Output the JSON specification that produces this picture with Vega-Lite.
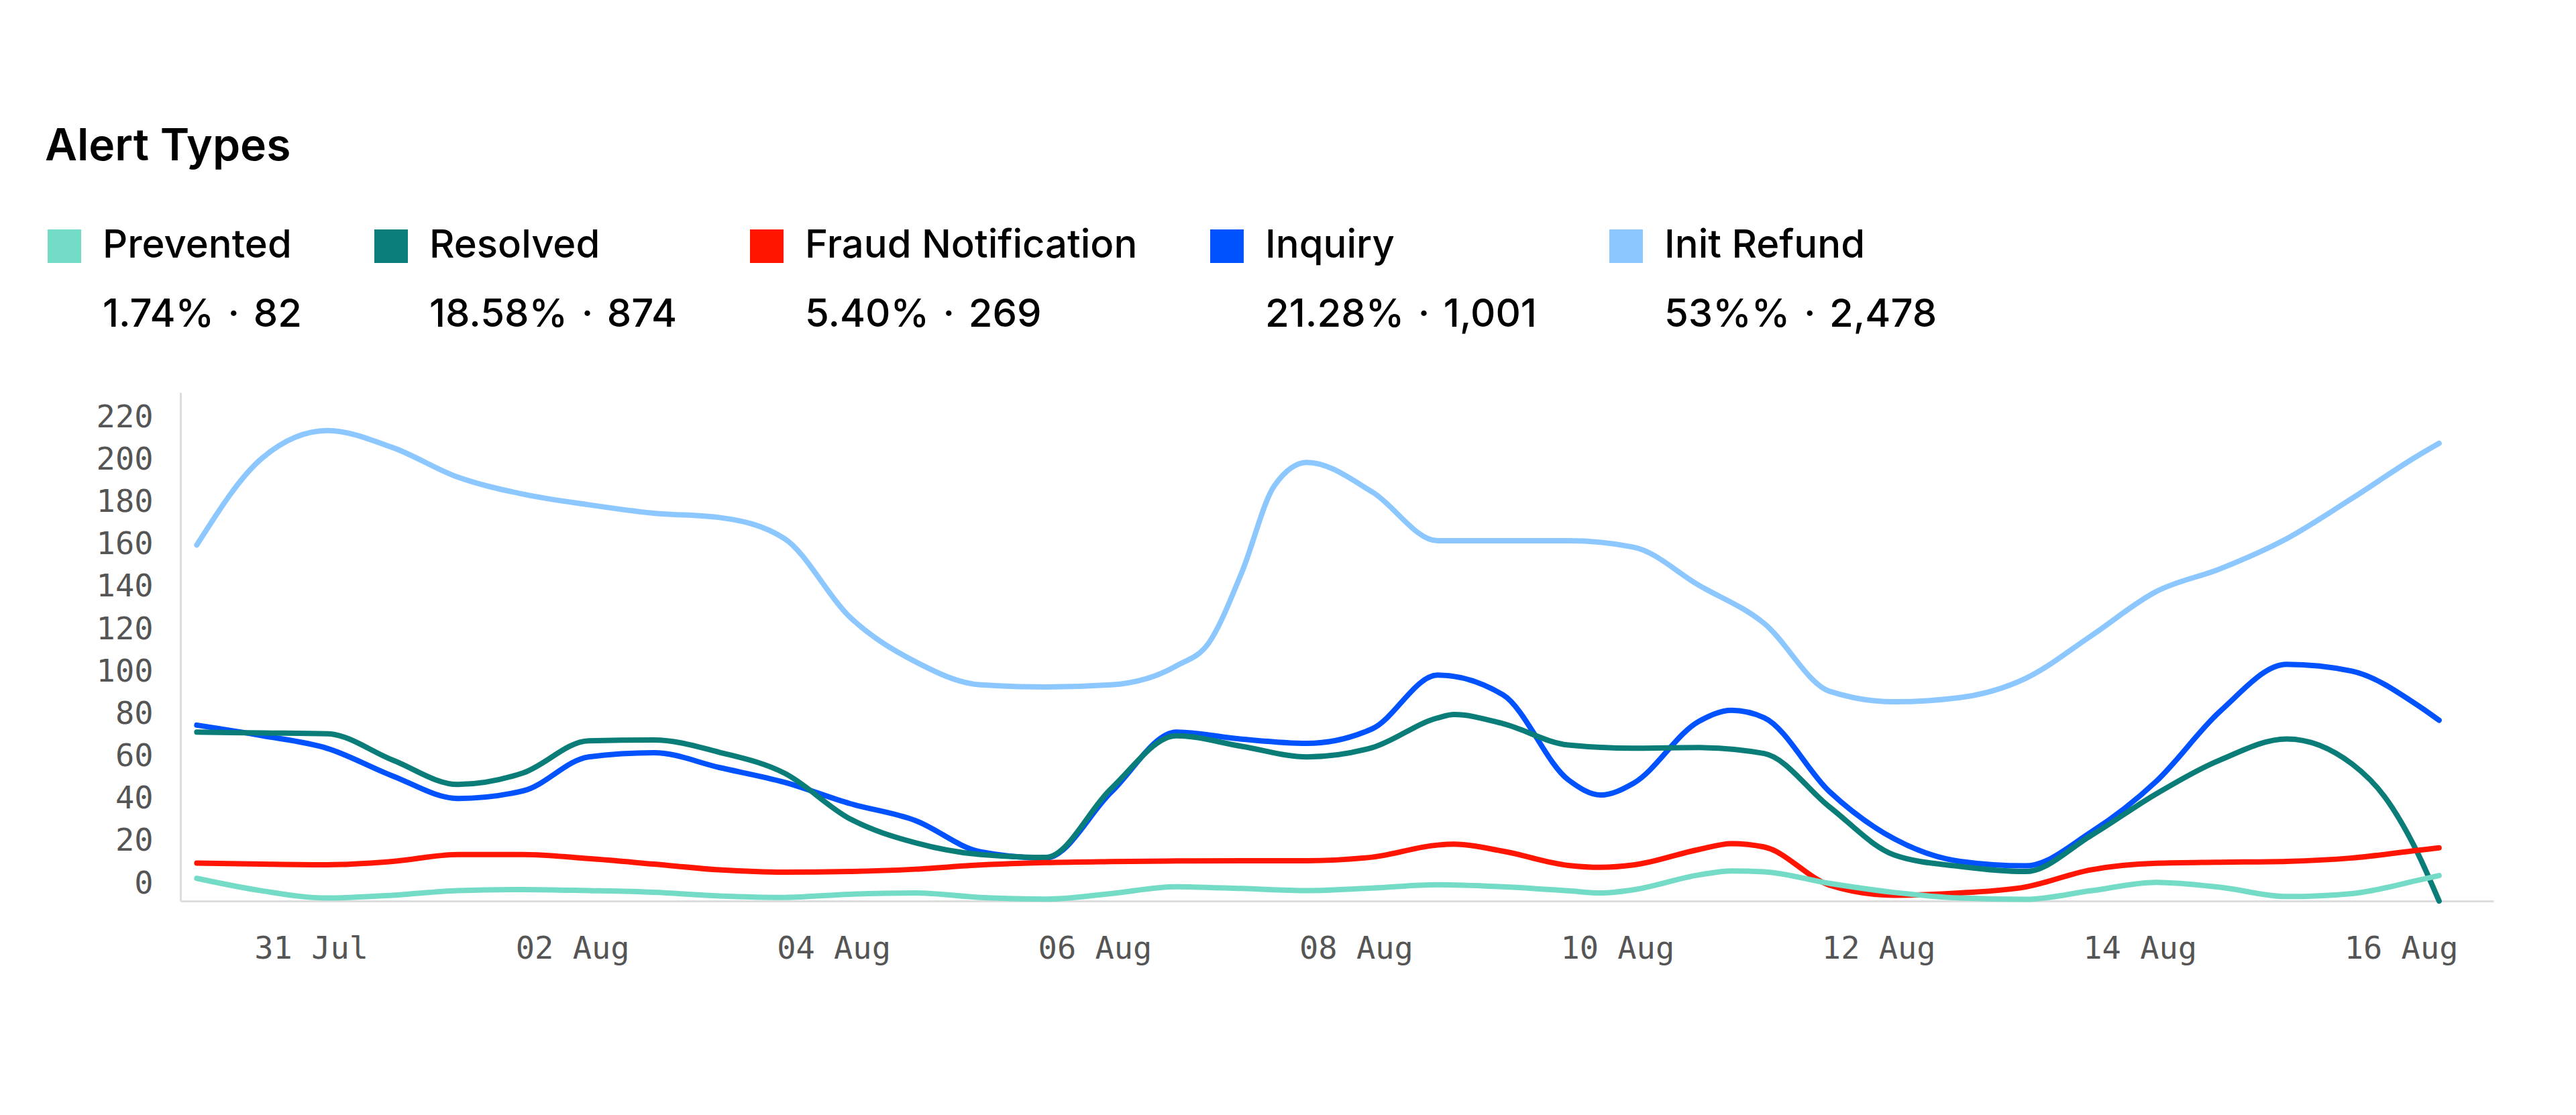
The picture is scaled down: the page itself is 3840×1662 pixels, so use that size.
{
  "$schema": "https://vega.github.io/schema/vega-lite/v6.json",
  "width": 3448,
  "height": 758,
  "autosize": {"type": "none"},
  "padding": {"left": 269, "top": 585, "right": 123, "bottom": 319},
  "background": "#ffffff",
  "title": {
    "text": "Alert Types",
    "anchor": "start",
    "frame": "bounds",
    "font": "Inter",
    "fontSize": 66,
    "fontWeight": 600,
    "color": "#000000",
    "offset": 85
  },
  "data": {
    "values": [
      {"date": "2024-07-30T03:00:00Z", "series": "Init Refund", "count": 168},
      {"date": "2024-07-30T15:00:00Z", "series": "Init Refund", "count": 209},
      {"date": "2024-07-31T03:00:00Z", "series": "Init Refund", "count": 222},
      {"date": "2024-07-31T15:00:00Z", "series": "Init Refund", "count": 214},
      {"date": "2024-08-01T03:00:00Z", "series": "Init Refund", "count": 200},
      {"date": "2024-08-01T15:00:00Z", "series": "Init Refund", "count": 192},
      {"date": "2024-08-02T03:00:00Z", "series": "Init Refund", "count": 187},
      {"date": "2024-08-02T15:00:00Z", "series": "Init Refund", "count": 183},
      {"date": "2024-08-03T03:00:00Z", "series": "Init Refund", "count": 181},
      {"date": "2024-08-03T15:00:00Z", "series": "Init Refund", "count": 171},
      {"date": "2024-08-04T03:00:00Z", "series": "Init Refund", "count": 134},
      {"date": "2024-08-04T15:00:00Z", "series": "Init Refund", "count": 113},
      {"date": "2024-08-05T03:00:00Z", "series": "Init Refund", "count": 102},
      {"date": "2024-08-05T15:00:00Z", "series": "Init Refund", "count": 101},
      {"date": "2024-08-06T03:00:00Z", "series": "Init Refund", "count": 102},
      {"date": "2024-08-06T15:00:00Z", "series": "Init Refund", "count": 111},
      {"date": "2024-08-06T21:00:00Z", "series": "Init Refund", "count": 122},
      {"date": "2024-08-07T03:00:00Z", "series": "Init Refund", "count": 155},
      {"date": "2024-08-07T09:00:00Z", "series": "Init Refund", "count": 196},
      {"date": "2024-08-07T15:00:00Z", "series": "Init Refund", "count": 207},
      {"date": "2024-08-08T03:00:00Z", "series": "Init Refund", "count": 193},
      {"date": "2024-08-08T15:00:00Z", "series": "Init Refund", "count": 170},
      {"date": "2024-08-09T03:00:00Z", "series": "Init Refund", "count": 170},
      {"date": "2024-08-09T15:00:00Z", "series": "Init Refund", "count": 170},
      {"date": "2024-08-10T03:00:00Z", "series": "Init Refund", "count": 167},
      {"date": "2024-08-10T15:00:00Z", "series": "Init Refund", "count": 149},
      {"date": "2024-08-11T03:00:00Z", "series": "Init Refund", "count": 131},
      {"date": "2024-08-11T15:00:00Z", "series": "Init Refund", "count": 99},
      {"date": "2024-08-12T03:00:00Z", "series": "Init Refund", "count": 94},
      {"date": "2024-08-12T15:00:00Z", "series": "Init Refund", "count": 96},
      {"date": "2024-08-13T03:00:00Z", "series": "Init Refund", "count": 105},
      {"date": "2024-08-13T15:00:00Z", "series": "Init Refund", "count": 125},
      {"date": "2024-08-14T03:00:00Z", "series": "Init Refund", "count": 146},
      {"date": "2024-08-14T15:00:00Z", "series": "Init Refund", "count": 157},
      {"date": "2024-08-15T03:00:00Z", "series": "Init Refund", "count": 171},
      {"date": "2024-08-15T15:00:00Z", "series": "Init Refund", "count": 190},
      {"date": "2024-08-16T03:00:00Z", "series": "Init Refund", "count": 210},
      {"date": "2024-08-16T07:00:00Z", "series": "Init Refund", "count": 216},

      {"date": "2024-07-30T03:00:00Z", "series": "Inquiry", "count": 83},
      {"date": "2024-07-30T15:00:00Z", "series": "Inquiry", "count": 78},
      {"date": "2024-07-31T03:00:00Z", "series": "Inquiry", "count": 72},
      {"date": "2024-07-31T15:00:00Z", "series": "Inquiry", "count": 59},
      {"date": "2024-08-01T03:00:00Z", "series": "Inquiry", "count": 48.4},
      {"date": "2024-08-01T15:00:00Z", "series": "Inquiry", "count": 52},
      {"date": "2024-08-02T03:00:00Z", "series": "Inquiry", "count": 68},
      {"date": "2024-08-02T15:00:00Z", "series": "Inquiry", "count": 70},
      {"date": "2024-08-03T03:00:00Z", "series": "Inquiry", "count": 63},
      {"date": "2024-08-03T15:00:00Z", "series": "Inquiry", "count": 56},
      {"date": "2024-08-04T03:00:00Z", "series": "Inquiry", "count": 46},
      {"date": "2024-08-04T15:00:00Z", "series": "Inquiry", "count": 38},
      {"date": "2024-08-05T03:00:00Z", "series": "Inquiry", "count": 23.2},
      {"date": "2024-08-05T15:00:00Z", "series": "Inquiry", "count": 20.3},
      {"date": "2024-08-06T03:00:00Z", "series": "Inquiry", "count": 51.3},
      {"date": "2024-08-06T15:00:00Z", "series": "Inquiry", "count": 79.7},
      {"date": "2024-08-07T03:00:00Z", "series": "Inquiry", "count": 76.4},
      {"date": "2024-08-07T15:00:00Z", "series": "Inquiry", "count": 74.4},
      {"date": "2024-08-08T03:00:00Z", "series": "Inquiry", "count": 81.3},
      {"date": "2024-08-08T15:00:00Z", "series": "Inquiry", "count": 106.6},
      {"date": "2024-08-09T03:00:00Z", "series": "Inquiry", "count": 97.3},
      {"date": "2024-08-09T15:00:00Z", "series": "Inquiry", "count": 57.2},
      {"date": "2024-08-09T21:00:00Z", "series": "Inquiry", "count": 50},
      {"date": "2024-08-10T03:00:00Z", "series": "Inquiry", "count": 55.6},
      {"date": "2024-08-10T15:00:00Z", "series": "Inquiry", "count": 84.8},
      {"date": "2024-08-10T21:00:00Z", "series": "Inquiry", "count": 90},
      {"date": "2024-08-11T03:00:00Z", "series": "Inquiry", "count": 86.5},
      {"date": "2024-08-11T15:00:00Z", "series": "Inquiry", "count": 51.6},
      {"date": "2024-08-12T03:00:00Z", "series": "Inquiry", "count": 29.2},
      {"date": "2024-08-12T15:00:00Z", "series": "Inquiry", "count": 18.7},
      {"date": "2024-08-13T03:00:00Z", "series": "Inquiry", "count": 16.6},
      {"date": "2024-08-13T15:00:00Z", "series": "Inquiry", "count": 32.4},
      {"date": "2024-08-14T03:00:00Z", "series": "Inquiry", "count": 56.4},
      {"date": "2024-08-14T15:00:00Z", "series": "Inquiry", "count": 90.1},
      {"date": "2024-08-15T03:00:00Z", "series": "Inquiry", "count": 111.7},
      {"date": "2024-08-15T15:00:00Z", "series": "Inquiry", "count": 108.5},
      {"date": "2024-08-16T03:00:00Z", "series": "Inquiry", "count": 92.5},
      {"date": "2024-08-16T07:00:00Z", "series": "Inquiry", "count": 85.3},

      {"date": "2024-07-30T03:00:00Z", "series": "Resolved", "count": 79.7},
      {"date": "2024-07-30T15:00:00Z", "series": "Resolved", "count": 79.3},
      {"date": "2024-07-31T03:00:00Z", "series": "Resolved", "count": 78.9},
      {"date": "2024-07-31T15:00:00Z", "series": "Resolved", "count": 66.5},
      {"date": "2024-08-01T03:00:00Z", "series": "Resolved", "count": 55},
      {"date": "2024-08-01T15:00:00Z", "series": "Resolved", "count": 60.5},
      {"date": "2024-08-02T03:00:00Z", "series": "Resolved", "count": 75.6},
      {"date": "2024-08-02T15:00:00Z", "series": "Resolved", "count": 76},
      {"date": "2024-08-03T03:00:00Z", "series": "Resolved", "count": 70.2},
      {"date": "2024-08-03T15:00:00Z", "series": "Resolved", "count": 60.3},
      {"date": "2024-08-04T03:00:00Z", "series": "Resolved", "count": 38.8},
      {"date": "2024-08-04T15:00:00Z", "series": "Resolved", "count": 27.5},
      {"date": "2024-08-05T03:00:00Z", "series": "Resolved", "count": 21.9},
      {"date": "2024-08-05T15:00:00Z", "series": "Resolved", "count": 20.6},
      {"date": "2024-08-06T03:00:00Z", "series": "Resolved", "count": 53},
      {"date": "2024-08-06T15:00:00Z", "series": "Resolved", "count": 78},
      {"date": "2024-08-07T03:00:00Z", "series": "Resolved", "count": 73},
      {"date": "2024-08-07T15:00:00Z", "series": "Resolved", "count": 68},
      {"date": "2024-08-08T03:00:00Z", "series": "Resolved", "count": 72.4},
      {"date": "2024-08-08T15:00:00Z", "series": "Resolved", "count": 86.4},
      {"date": "2024-08-08T18:00:00Z", "series": "Resolved", "count": 88},
      {"date": "2024-08-09T03:00:00Z", "series": "Resolved", "count": 83.7},
      {"date": "2024-08-09T15:00:00Z", "series": "Resolved", "count": 73.6},
      {"date": "2024-08-10T03:00:00Z", "series": "Resolved", "count": 72.1},
      {"date": "2024-08-10T15:00:00Z", "series": "Resolved", "count": 72.4},
      {"date": "2024-08-11T03:00:00Z", "series": "Resolved", "count": 69.6},
      {"date": "2024-08-11T15:00:00Z", "series": "Resolved", "count": 44.4},
      {"date": "2024-08-12T03:00:00Z", "series": "Resolved", "count": 21.6},
      {"date": "2024-08-12T15:00:00Z", "series": "Resolved", "count": 16.3},
      {"date": "2024-08-13T03:00:00Z", "series": "Resolved", "count": 13.9},
      {"date": "2024-08-13T15:00:00Z", "series": "Resolved", "count": 30.8},
      {"date": "2024-08-14T03:00:00Z", "series": "Resolved", "count": 50.5},
      {"date": "2024-08-14T15:00:00Z", "series": "Resolved", "count": 66.8},
      {"date": "2024-08-15T03:00:00Z", "series": "Resolved", "count": 76.5},
      {"date": "2024-08-15T15:00:00Z", "series": "Resolved", "count": 64.7},
      {"date": "2024-08-15T21:00:00Z", "series": "Resolved", "count": 49.2},
      {"date": "2024-08-16T03:00:00Z", "series": "Resolved", "count": 23},
      {"date": "2024-08-16T07:00:00Z", "series": "Resolved", "count": 0},

      {"date": "2024-07-30T03:00:00Z", "series": "Fraud Notification", "count": 17.9},
      {"date": "2024-07-30T15:00:00Z", "series": "Fraud Notification", "count": 17.4},
      {"date": "2024-07-31T03:00:00Z", "series": "Fraud Notification", "count": 17.1},
      {"date": "2024-07-31T15:00:00Z", "series": "Fraud Notification", "count": 18.7},
      {"date": "2024-08-01T03:00:00Z", "series": "Fraud Notification", "count": 21.9},
      {"date": "2024-08-01T15:00:00Z", "series": "Fraud Notification", "count": 21.9},
      {"date": "2024-08-02T03:00:00Z", "series": "Fraud Notification", "count": 20},
      {"date": "2024-08-02T15:00:00Z", "series": "Fraud Notification", "count": 17.4},
      {"date": "2024-08-03T03:00:00Z", "series": "Fraud Notification", "count": 14.7},
      {"date": "2024-08-03T15:00:00Z", "series": "Fraud Notification", "count": 13.6},
      {"date": "2024-08-04T03:00:00Z", "series": "Fraud Notification", "count": 13.9},
      {"date": "2024-08-04T15:00:00Z", "series": "Fraud Notification", "count": 15},
      {"date": "2024-08-05T03:00:00Z", "series": "Fraud Notification", "count": 17},
      {"date": "2024-08-05T15:00:00Z", "series": "Fraud Notification", "count": 18.1},
      {"date": "2024-08-06T03:00:00Z", "series": "Fraud Notification", "count": 18.6},
      {"date": "2024-08-06T15:00:00Z", "series": "Fraud Notification", "count": 18.9},
      {"date": "2024-08-07T03:00:00Z", "series": "Fraud Notification", "count": 19},
      {"date": "2024-08-07T15:00:00Z", "series": "Fraud Notification", "count": 19},
      {"date": "2024-08-08T03:00:00Z", "series": "Fraud Notification", "count": 20.7},
      {"date": "2024-08-08T15:00:00Z", "series": "Fraud Notification", "count": 26.4},
      {"date": "2024-08-08T18:00:00Z", "series": "Fraud Notification", "count": 26.8},
      {"date": "2024-08-09T03:00:00Z", "series": "Fraud Notification", "count": 23.5},
      {"date": "2024-08-09T15:00:00Z", "series": "Fraud Notification", "count": 16.8},
      {"date": "2024-08-09T21:00:00Z", "series": "Fraud Notification", "count": 15.9},
      {"date": "2024-08-10T03:00:00Z", "series": "Fraud Notification", "count": 17},
      {"date": "2024-08-10T15:00:00Z", "series": "Fraud Notification", "count": 24.3},
      {"date": "2024-08-10T21:00:00Z", "series": "Fraud Notification", "count": 27.1},
      {"date": "2024-08-11T03:00:00Z", "series": "Fraud Notification", "count": 25.5},
      {"date": "2024-08-11T15:00:00Z", "series": "Fraud Notification", "count": 7.5},
      {"date": "2024-08-12T03:00:00Z", "series": "Fraud Notification", "count": 2.7},
      {"date": "2024-08-12T15:00:00Z", "series": "Fraud Notification", "count": 3.8},
      {"date": "2024-08-13T03:00:00Z", "series": "Fraud Notification", "count": 6.6},
      {"date": "2024-08-13T15:00:00Z", "series": "Fraud Notification", "count": 14.7},
      {"date": "2024-08-14T03:00:00Z", "series": "Fraud Notification", "count": 17.8},
      {"date": "2024-08-14T15:00:00Z", "series": "Fraud Notification", "count": 18.3},
      {"date": "2024-08-15T03:00:00Z", "series": "Fraud Notification", "count": 18.7},
      {"date": "2024-08-15T15:00:00Z", "series": "Fraud Notification", "count": 20.3},
      {"date": "2024-08-16T03:00:00Z", "series": "Fraud Notification", "count": 23.9},
      {"date": "2024-08-16T07:00:00Z", "series": "Fraud Notification", "count": 25.1},

      {"date": "2024-07-30T03:00:00Z", "series": "Prevented", "count": 10.7},
      {"date": "2024-07-30T15:00:00Z", "series": "Prevented", "count": 4.8},
      {"date": "2024-07-31T03:00:00Z", "series": "Prevented", "count": 1.4},
      {"date": "2024-07-31T15:00:00Z", "series": "Prevented", "count": 2.7},
      {"date": "2024-08-01T03:00:00Z", "series": "Prevented", "count": 4.9},
      {"date": "2024-08-01T15:00:00Z", "series": "Prevented", "count": 5.4},
      {"date": "2024-08-02T03:00:00Z", "series": "Prevented", "count": 4.9},
      {"date": "2024-08-02T15:00:00Z", "series": "Prevented", "count": 4.1},
      {"date": "2024-08-03T03:00:00Z", "series": "Prevented", "count": 2.4},
      {"date": "2024-08-03T15:00:00Z", "series": "Prevented", "count": 1.7},
      {"date": "2024-08-04T03:00:00Z", "series": "Prevented", "count": 3.2},
      {"date": "2024-08-04T15:00:00Z", "series": "Prevented", "count": 3.8},
      {"date": "2024-08-05T03:00:00Z", "series": "Prevented", "count": 1.7},
      {"date": "2024-08-05T15:00:00Z", "series": "Prevented", "count": 0.9},
      {"date": "2024-08-06T03:00:00Z", "series": "Prevented", "count": 3.5},
      {"date": "2024-08-06T15:00:00Z", "series": "Prevented", "count": 6.7},
      {"date": "2024-08-07T03:00:00Z", "series": "Prevented", "count": 5.9},
      {"date": "2024-08-07T15:00:00Z", "series": "Prevented", "count": 4.9},
      {"date": "2024-08-08T03:00:00Z", "series": "Prevented", "count": 6.1},
      {"date": "2024-08-08T15:00:00Z", "series": "Prevented", "count": 7.7},
      {"date": "2024-08-09T03:00:00Z", "series": "Prevented", "count": 6.7},
      {"date": "2024-08-09T15:00:00Z", "series": "Prevented", "count": 4.8},
      {"date": "2024-08-09T21:00:00Z", "series": "Prevented", "count": 3.8},
      {"date": "2024-08-10T03:00:00Z", "series": "Prevented", "count": 5.3},
      {"date": "2024-08-10T15:00:00Z", "series": "Prevented", "count": 12.3},
      {"date": "2024-08-10T21:00:00Z", "series": "Prevented", "count": 14.2},
      {"date": "2024-08-11T03:00:00Z", "series": "Prevented", "count": 13.8},
      {"date": "2024-08-11T15:00:00Z", "series": "Prevented", "count": 8.3},
      {"date": "2024-08-12T03:00:00Z", "series": "Prevented", "count": 4},
      {"date": "2024-08-12T15:00:00Z", "series": "Prevented", "count": 1.4},
      {"date": "2024-08-13T03:00:00Z", "series": "Prevented", "count": 0.8},
      {"date": "2024-08-13T15:00:00Z", "series": "Prevented", "count": 4.8},
      {"date": "2024-08-14T03:00:00Z", "series": "Prevented", "count": 8.8},
      {"date": "2024-08-14T15:00:00Z", "series": "Prevented", "count": 6.4},
      {"date": "2024-08-15T03:00:00Z", "series": "Prevented", "count": 2.1},
      {"date": "2024-08-15T15:00:00Z", "series": "Prevented", "count": 3.5},
      {"date": "2024-08-16T03:00:00Z", "series": "Prevented", "count": 9.7},
      {"date": "2024-08-16T07:00:00Z", "series": "Prevented", "count": 12}
    ]
  },
  "mark": {
    "type": "line",
    "interpolate": "monotone",
    "strokeWidth": 8,
    "strokeCap": "round",
    "strokeJoin": "round"
  },
  "encoding": {
    "x": {
      "field": "date",
      "type": "temporal",
      "scale": {
        "type": "utc",
        "nice": false,
        "domain": [
          {"year": 2024, "month": 7, "date": 30, "hours": 0, "utc": true},
          {"year": 2024, "month": 8, "date": 16, "hours": 17, "utc": true}
        ]
      },
      "axis": {
        "title": null,
        "values": [
          {"year": 2024, "month": 7, "date": 31, "utc": true},
          {"year": 2024, "month": 8, "date": 2, "utc": true},
          {"year": 2024, "month": 8, "date": 4, "utc": true},
          {"year": 2024, "month": 8, "date": 6, "utc": true},
          {"year": 2024, "month": 8, "date": 8, "utc": true},
          {"year": 2024, "month": 8, "date": 10, "utc": true},
          {"year": 2024, "month": 8, "date": 12, "utc": true},
          {"year": 2024, "month": 8, "date": 14, "utc": true},
          {"year": 2024, "month": 8, "date": 16, "utc": true}
        ],
        "format": "%d %b",
        "labelFont": "DejaVu Sans Mono",
        "labelFontSize": 47,
        "labelColor": "#555555",
        "ticks": false,
        "tickSize": 0,
        "labelPadding": 48,
        "labelFlush": false,
        "labelOverlap": false,
        "grid": false,
        "domainColor": "#dddddd",
        "domainWidth": 3
      }
    },
    "y": {
      "field": "count",
      "type": "quantitative",
      "scale": {"domain": [0, 240], "nice": false},
      "axis": {
        "title": null,
        "values": [0, 20, 40, 60, 80, 100, 120, 140, 160, 180, 200, 220],
        "labelFont": "DejaVu Sans Mono",
        "labelFontSize": 47,
        "labelColor": "#555555",
        "ticks": false,
        "tickSize": 0,
        "labelPadding": 41,
        "labelOffset": -26,
        "labelFlush": false,
        "labelOverlap": false,
        "grid": false,
        "domainColor": "#dddddd",
        "domainWidth": 3
      }
    },
    "color": {
      "field": "series",
      "type": "nominal",
      "scale": {
        "domain": ["Prevented", "Resolved", "Fraud Notification", "Inquiry", "Init Refund"],
        "range": ["#74dbc6", "#0b7d78", "#ff1500", "#0052ff", "#8cc8ff"]
      },
      "legend": {
        "title": null,
        "orient": "none",
        "legendX": -202,
        "legendY": -247,
        "direction": "horizontal",
        "columns": 5,
        "padding": 0,
        "symbolType": "square",
        "symbolSize": 2500,
        "symbolStrokeWidth": 0,
        "symbolOffset": 0,
        "labelFont": "Inter",
        "labelFontSize": 58,
        "labelFontWeight": 500,
        "labelColor": "#000000",
        "labelLimit": 3000,
        "labelOffset": 28,
        "columnPadding": 104,
        "labelExpr": "[datum.label, datum.label === 'Prevented' ? '1.74%\u200a · \u200a82' : datum.label === 'Resolved' ? '18.58%\u200a · \u200a874' : datum.label === 'Fraud Notification' ? '5.40%\u200a · \u200a269' : datum.label === 'Inquiry' ? '21.28%\u200a · \u200a1,001' : '53%%\u200a · \u200a2,478']",
        "encode": {
          "symbols": {"update": {"fill": {"scale": "color", "field": "value"}, "opacity": {"value": 1}}},
          "labels": {"update": {"lineHeight": {"value": 103}}}
        }
      }
    }
  },
  "config": {"view": {"stroke": null}}
}
